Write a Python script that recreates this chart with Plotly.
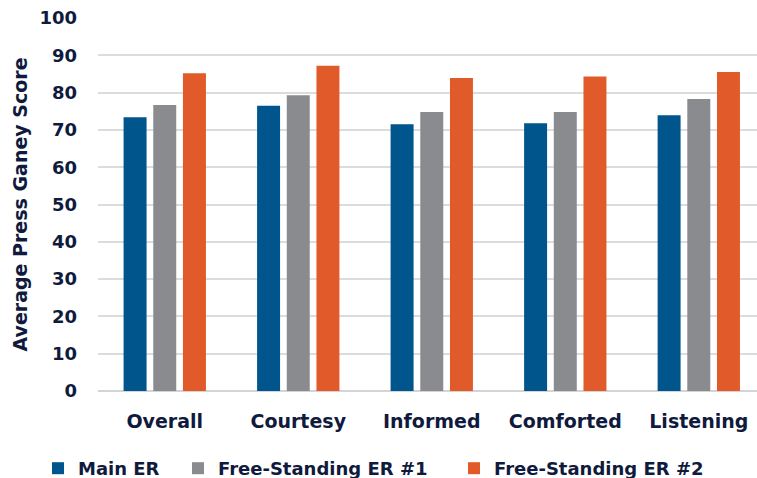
import plotly.graph_objects as go

categories = ["Overall", "Courtesy", "Informed", "Comforted", "Listening"]
main_er = [73.4, 76.5, 71.5, 71.8, 73.9]
fs_er1 = [76.7, 79.3, 74.8, 74.8, 78.3]
fs_er2 = [85.2, 87.2, 83.9, 84.3, 85.5]
series_names = ["Main ER", "Free-Standing ER #1", "Free-Standing ER #2"]
colors = ["#00558c", "#8a8b8f", "#e05a2a"]

TXT = "#0f1a3d"
FONT = "DejaVu Sans"
W, H = 757, 478

legend_ids = ["legend", "legend2", "legend3"]
legend_text_x = [79, 219, 495]  # px where legend text starts

fig = go.Figure()
for name, vals, col, lg in zip(series_names, [main_er, fs_er1, fs_er2], colors, legend_ids):
    fig.add_trace(go.Bar(x=categories, y=vals, name=name, marker_color=col,
                         marker_line_width=0, legend=lg, showlegend=True))

legend_common = dict(orientation="h", xref="container", yref="container",
                     xanchor="left", yanchor="top", y=1 - 450 / H,
                     itemwidth=30, borderwidth=0, bgcolor="rgba(0,0,0,0)",
                     font=dict(family=FONT, size=18, color=TXT, weight="bold"))
legends = {}
for lg, tx in zip(legend_ids, legend_text_x):
    legends[lg] = dict(legend_common, x=(tx - 41) / W)

fig.update_layout(
    width=W, height=H,
    margin=dict(l=98, r=0, t=18, b=87),
    paper_bgcolor="white", plot_bgcolor="white",
    barmode="group", bargap=0.333, bargroupgap=0.226,
    font=dict(family=FONT, color=TXT, size=18),
    showlegend=True,
    **legends,
)
fig.update_xaxes(range=[-0.5, 4.436], showgrid=False, showline=False,
                 ticks="", ticklabelstandoff=17,
                 tickfont=dict(family=FONT, size=19, color=TXT, weight="bold"))
fig.update_yaxes(range=[0, 100], dtick=10, showgrid=True, gridcolor="#dcdcdc",
                 gridwidth=1.5, zeroline=True, zerolinecolor="#d4d4d4", zerolinewidth=1.5,
                 ticks="", ticklabelstandoff=20,
                 tickfont=dict(family=FONT, size=18, color=TXT, weight="bold"),
                 title=dict(text="Average Press Ganey Score", standoff=6,
                            font=dict(family=FONT, size=19, color=TXT, weight="bold")))

fig.write_html("out.html")
